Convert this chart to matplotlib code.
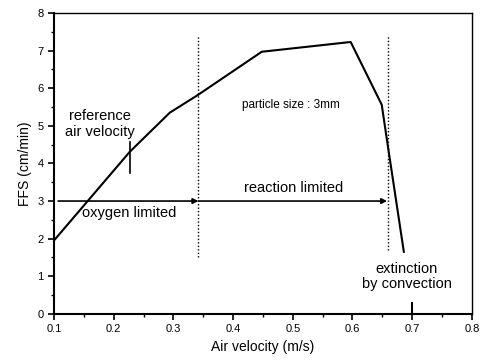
import matplotlib
matplotlib.use("Agg")
import matplotlib.pyplot as plt
from matplotlib.ticker import MultipleLocator

plt.rcParams['font.family'] = ['Liberation Sans', 'DejaVu Sans']

# FFS curve
air_velocity = [0.1, 0.227, 0.294, 0.341, 0.448, 0.597, 0.649, 0.657, 0.686]
ffs = [1.95, 4.31, 5.35, 5.82, 6.97, 7.23, 5.56, 4.7, 1.65]

# reference velocity marker
ref_x = 0.227
ref_y = [3.75, 4.57]

# regime boundaries (dotted)
boundary_x = [0.342, 0.659]
boundary_bottom = [1.5, 1.7]
boundary_top = [7.42, 7.42]

# regime arrows at FFS = 3
arrow_y = 3.0
arrow_from = [0.107, 0.342]
arrow_to = [0.342, 0.658]

# extinction tick
ext_x = 0.7
ext_y = [0.0, 0.3]

fig = plt.figure(figsize=(4.86, 3.62), dpi=100)
ax = fig.add_axes([0.111, 0.133, 0.86, 0.831])

ax.plot(air_velocity, ffs, color='black', lw=1.5)
ax.plot([ref_x, ref_x], ref_y, color='black', lw=1.2)
ax.plot([ext_x, ext_x], ext_y, color='black', lw=1.5)

for x, b, t in zip(boundary_x, boundary_bottom, boundary_top):
    ax.plot([x, x], [b, t], color='black', lw=1.0, ls=(0, (1, 1.5)))

for x0, x1 in zip(arrow_from, arrow_to):
    ax.annotate('', xy=(x1, arrow_y), xytext=(x0, arrow_y),
                arrowprops=dict(arrowstyle='-|>', color='black', lw=1.2,
                                mutation_scale=8, shrinkA=0, shrinkB=0))

ax.text(0.177, 5.05, 'reference\nair velocity', ha='center', va='center',
        fontsize=10.5, linespacing=1.1)
ax.text(0.147, 2.68, 'oxygen limited', ha='left', va='center', fontsize=10.5)
ax.text(0.502, 3.35, 'reaction limited', ha='center', va='center', fontsize=10.5)
ax.text(0.497, 5.56, 'particle size : 3mm', ha='center', va='center', fontsize=8.5)
ax.text(0.691, 1.0, 'extinction\nby convection', ha='center', va='center',
        fontsize=10.5, linespacing=1.1)

ax.set_xlim(0.1, 0.8)
ax.set_ylim(0, 8)
ax.xaxis.set_major_locator(MultipleLocator(0.1))
ax.xaxis.set_minor_locator(MultipleLocator(0.05))
ax.yaxis.set_major_locator(MultipleLocator(1))
ax.yaxis.set_minor_locator(MultipleLocator(0.5))
ax.tick_params(which='both', direction='out', labelsize=8)
ax.tick_params(which='major', length=4, width=1.2)
ax.tick_params(which='minor', length=2.5, width=1.0)
ax.set_xticks([0.1, 0.2, 0.3, 0.4, 0.5, 0.6, 0.7, 0.8])
ax.set_xticklabels(['0.1', '0.2', '0.3', '0.4', '0.5', '0.6', '0.7', '0.8'])
ax.spines['left'].set_linewidth(1.5)
ax.spines['bottom'].set_linewidth(1.5)
ax.spines['top'].set_linewidth(1.0)
ax.spines['right'].set_linewidth(1.0)

ax.set_xlabel('Air velocity (m/s)', fontsize=10)
ax.set_ylabel('FFS (cm/min)', fontsize=10)

fig.savefig('out.png', dpi=100)
